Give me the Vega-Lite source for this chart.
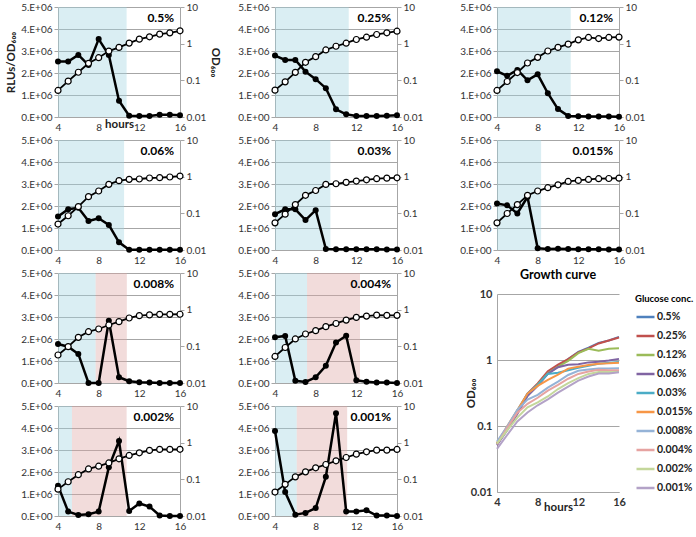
{
"$schema": "https://vega.github.io/schema/vega-lite/v6.json",
"padding": {"left": 5, "top": 2, "right": 0, "bottom": 0},
"background": "white",
"config": {
  "view": {"stroke": null},
  "font": "Lato",
  "axis": {"labelFont": "Lato", "labelFontSize": 10, "labelColor": "#333", "domainColor": "#a6a6a6", "tickColor": "#a6a6a6", "gridColor": "#a6a6a6", "tickSize": 4, "labelPadding": 2, "labelOverlap": false, "labelFlush": false, "titleFont": "Lato", "titleFontWeight": "bold", "titleFontSize": 11.5, "titleColor": "#222"},
  "legend": {"labelFont": "Lato", "titleFont": "Lato"}
},
"datasets": {
  "shades": [
    {"c": "0.5%", "kind": "blue", "h": 4, "h2": 10.75},
    {"c": "0.25%", "kind": "blue", "h": 4, "h2": 11.25},
    {"c": "0.12%", "kind": "blue", "h": 4, "h2": 11.25},
    {"c": "0.06%", "kind": "blue", "h": 4, "h2": 10.5},
    {"c": "0.03%", "kind": "blue", "h": 4, "h2": 9.45},
    {"c": "0.015%", "kind": "blue", "h": 4, "h2": 8.34},
    {"c": "0.008%", "kind": "blue", "h": 4, "h2": 7.7},
    {"c": "0.008%", "kind": "pink", "h": 7.7, "h2": 10.77},
    {"c": "0.004%", "kind": "blue", "h": 4, "h2": 7.15},
    {"c": "0.004%", "kind": "pink", "h": 7.15, "h2": 12.36},
    {"c": "0.002%", "kind": "blue", "h": 4, "h2": 5.37},
    {"c": "0.002%", "kind": "pink", "h": 5.37, "h2": 10.75},
    {"c": "0.001%", "kind": "blue", "h": 4, "h2": 6.14},
    {"c": "0.001%", "kind": "pink", "h": 6.14, "h2": 11.1}
  ],
  "labels": [
    {"c": "0.5%", "h": 16, "top": 5000000}, {"c": "0.25%", "h": 16, "top": 5000000}, {"c": "0.12%", "h": 16, "top": 5000000},
    {"c": "0.06%", "h": 16, "top": 5000000}, {"c": "0.03%", "h": 16, "top": 5000000}, {"c": "0.015%", "h": 16, "top": 5000000},
    {"c": "0.008%", "h": 16, "top": 5000000}, {"c": "0.004%", "h": 16, "top": 5000000}, {"c": "0.002%", "h": 16, "top": 5000000},
    {"c": "0.001%", "h": 16, "top": 5000000}
  ],
  "series": [
    {"c":"0.5%","h":4,"rlu":2520000,"od":0.053},{"c":"0.5%","h":5,"rlu":2520000,"od":0.095},{"c":"0.5%","h":6,"rlu":2820000,"od":0.166},{"c":"0.5%","h":7,"rlu":2360000,"od":0.291},{"c":"0.5%","h":8,"rlu":3540000,"od":0.414},{"c":"0.5%","h":9,"rlu":2820000,"od":0.628},{"c":"0.5%","h":10,"rlu":740000,"od":0.79},{"c":"0.5%","h":11,"rlu":60000,"od":1.035},{"c":"0.5%","h":12,"rlu":50000,"od":1.33},{"c":"0.5%","h":13,"rlu":50000,"od":1.54},{"c":"0.5%","h":14,"rlu":100000,"od":1.82},{"c":"0.5%","h":15,"rlu":100000,"od":1.97},{"c":"0.5%","h":16,"rlu":80000,"od":2.24},
    {"c":"0.25%","h":4,"rlu":2790000,"od":0.054},{"c":"0.25%","h":5,"rlu":2590000,"od":0.091},{"c":"0.25%","h":6,"rlu":2590000,"od":0.165},{"c":"0.25%","h":7,"rlu":2060000,"od":0.31},{"c":"0.25%","h":8,"rlu":1720000,"od":0.443},{"c":"0.25%","h":9,"rlu":1310000,"od":0.675},{"c":"0.25%","h":10,"rlu":350000,"od":0.85},{"c":"0.25%","h":11,"rlu":120000,"od":1.03},{"c":"0.25%","h":12,"rlu":50000,"od":1.3},{"c":"0.25%","h":13,"rlu":50000,"od":1.5},{"c":"0.25%","h":14,"rlu":50000,"od":1.78},{"c":"0.25%","h":15,"rlu":60000,"od":1.98},{"c":"0.25%","h":16,"rlu":80000,"od":2.19},
    {"c":"0.12%","h":4,"rlu":2080000,"od":0.053},{"c":"0.12%","h":5,"rlu":1870000,"od":0.093},{"c":"0.12%","h":6,"rlu":2140000,"od":0.163},{"c":"0.12%","h":7,"rlu":1670000,"od":0.297},{"c":"0.12%","h":8,"rlu":1940000,"od":0.423},{"c":"0.12%","h":9,"rlu":1080000,"od":0.63},{"c":"0.12%","h":10,"rlu":360000,"od":0.79},{"c":"0.12%","h":11,"rlu":50000,"od":0.97},{"c":"0.12%","h":12,"rlu":30000,"od":1.27},{"c":"0.12%","h":13,"rlu":20000,"od":1.48},{"c":"0.12%","h":14,"rlu":20000,"od":1.38},{"c":"0.12%","h":15,"rlu":20000,"od":1.48},{"c":"0.12%","h":16,"rlu":10000,"od":1.51},
    {"c":"0.06%","h":4,"rlu":1520000,"od":0.051},{"c":"0.06%","h":5,"rlu":1850000,"od":0.086},{"c":"0.06%","h":6,"rlu":1920000,"od":0.152},{"c":"0.06%","h":7,"rlu":1320000,"od":0.285},{"c":"0.06%","h":8,"rlu":1440000,"od":0.406},{"c":"0.06%","h":9,"rlu":1140000,"od":0.618},{"c":"0.06%","h":10,"rlu":350000,"od":0.778},{"c":"0.06%","h":11,"rlu":10000,"od":0.846},{"c":"0.06%","h":12,"rlu":10000,"od":0.863},{"c":"0.06%","h":13,"rlu":10000,"od":0.92},{"c":"0.06%","h":14,"rlu":10000,"od":0.94},{"c":"0.06%","h":15,"rlu":10000,"od":0.98},{"c":"0.06%","h":16,"rlu":10000,"od":1.04},
    {"c":"0.03%","h":4,"rlu":1630000,"od":0.055},{"c":"0.03%","h":5,"rlu":1850000,"od":0.095},{"c":"0.03%","h":6,"rlu":1850000,"od":0.173},{"c":"0.03%","h":7,"rlu":1360000,"od":0.31},{"c":"0.03%","h":8,"rlu":1810000,"od":0.42},{"c":"0.03%","h":9,"rlu":50000,"od":0.615},{"c":"0.03%","h":10,"rlu":30000,"od":0.64},{"c":"0.03%","h":11,"rlu":30000,"od":0.7},{"c":"0.03%","h":12,"rlu":30000,"od":0.76},{"c":"0.03%","h":13,"rlu":30000,"od":0.82},{"c":"0.03%","h":14,"rlu":30000,"od":0.88},{"c":"0.03%","h":15,"rlu":20000,"od":0.91},{"c":"0.03%","h":16,"rlu":20000,"od":0.93},
    {"c":"0.015%","h":4,"rlu":2110000,"od":0.055},{"c":"0.015%","h":5,"rlu":2030000,"od":0.099},{"c":"0.015%","h":6,"rlu":1660000,"od":0.173},{"c":"0.015%","h":7,"rlu":2410000,"od":0.31},{"c":"0.015%","h":8,"rlu":80000,"od":0.406},{"c":"0.015%","h":9,"rlu":50000,"od":0.5},{"c":"0.015%","h":10,"rlu":60000,"od":0.6},{"c":"0.015%","h":11,"rlu":40000,"od":0.74},{"c":"0.015%","h":12,"rlu":30000,"od":0.79},{"c":"0.015%","h":13,"rlu":30000,"od":0.84},{"c":"0.015%","h":14,"rlu":30000,"od":0.88},{"c":"0.015%","h":15,"rlu":20000,"od":0.89},{"c":"0.015%","h":16,"rlu":20000,"od":0.91},
    {"c":"0.008%","h":4,"rlu":1770000,"od":0.058},{"c":"0.008%","h":5,"rlu":1650000,"od":0.098},{"c":"0.008%","h":6,"rlu":1320000,"od":0.176},{"c":"0.008%","h":7,"rlu":0,"od":0.251},{"c":"0.008%","h":8,"rlu":0,"od":0.297},{"c":"0.008%","h":9,"rlu":2830000,"od":0.382},{"c":"0.008%","h":10,"rlu":260000,"od":0.471},{"c":"0.008%","h":11,"rlu":80000,"od":0.593},{"c":"0.008%","h":12,"rlu":30000,"od":0.686},{"c":"0.008%","h":13,"rlu":20000,"od":0.72},{"c":"0.008%","h":14,"rlu":0,"od":0.746},{"c":"0.008%","h":15,"rlu":0,"od":0.746},{"c":"0.008%","h":16,"rlu":0,"od":0.75},
    {"c":"0.004%","h":4,"rlu":2080000,"od":0.053},{"c":"0.004%","h":5,"rlu":2140000,"od":0.093},{"c":"0.004%","h":6,"rlu":100000,"od":0.159},{"c":"0.004%","h":7,"rlu":50000,"od":0.217},{"c":"0.004%","h":8,"rlu":260000,"od":0.268},{"c":"0.004%","h":9,"rlu":780000,"od":0.344},{"c":"0.004%","h":10,"rlu":1840000,"od":0.42},{"c":"0.004%","h":11,"rlu":2150000,"od":0.52},{"c":"0.004%","h":12,"rlu":120000,"od":0.615},{"c":"0.004%","h":13,"rlu":60000,"od":0.668},{"c":"0.004%","h":14,"rlu":20000,"od":0.71},{"c":"0.004%","h":15,"rlu":20000,"od":0.7},{"c":"0.004%","h":16,"rlu":0,"od":0.7},
    {"c":"0.002%","h":4,"rlu":1380000,"od":0.054},{"c":"0.002%","h":5,"rlu":200000,"od":0.086},{"c":"0.002%","h":6,"rlu":50000,"od":0.134},{"c":"0.002%","h":7,"rlu":80000,"od":0.192},{"c":"0.002%","h":8,"rlu":200000,"od":0.228},{"c":"0.002%","h":9,"rlu":2220000,"od":0.28},{"c":"0.002%","h":10,"rlu":3410000,"od":0.363},{"c":"0.002%","h":11,"rlu":230000,"od":0.448},{"c":"0.002%","h":12,"rlu":570000,"od":0.53},{"c":"0.002%","h":13,"rlu":430000,"od":0.615},{"c":"0.002%","h":14,"rlu":20000,"od":0.656},{"c":"0.002%","h":15,"rlu":0,"od":0.656},{"c":"0.002%","h":16,"rlu":0,"od":0.66},
    {"c":"0.001%","h":4,"rlu":3860000,"od":0.045},{"c":"0.001%","h":5,"rlu":1090000,"od":0.073},{"c":"0.001%","h":6,"rlu":60000,"od":0.117},{"c":"0.001%","h":7,"rlu":140000,"od":0.16},{"c":"0.001%","h":8,"rlu":360000,"od":0.206},{"c":"0.001%","h":9,"rlu":1780000,"od":0.254},{"c":"0.001%","h":10,"rlu":4670000,"od":0.32},{"c":"0.001%","h":11,"rlu":210000,"od":0.394},{"c":"0.001%","h":12,"rlu":210000,"od":0.486},{"c":"0.001%","h":13,"rlu":260000,"od":0.563},{"c":"0.001%","h":14,"rlu":20000,"od":0.625},{"c":"0.001%","h":15,"rlu":20000,"od":0.625},{"c":"0.001%","h":16,"rlu":0,"od":0.653}
  ]
},
"spacing": 36,
"resolve": {"scale": {"color": "independent"}, "legend": {"color": "independent"}},
"hconcat": [
 {"spacing": 16, "hconcat": [
  {"spacing": 3, "vconcat": [
   {"width": 122, "height": 110, "resolve": {"scale": {"y": "independent"}},
    "encoding": {"x": {"field": "h", "type": "quantitative", "scale": {"domain": [4, 16], "nice": false}, "axis": {"values": [4, 8, 12, 16], "grid": false, "ticks": false, "labelPadding": 5, "title": "hours", "titlePadding": -14}}},
    "layer": [
     {"layer": [
       {"data": {"name": "shades"}, "transform": [{"filter": "datum.c == '0.5%'"}], "mark": {"type": "rect", "fillOpacity": 0.4},
        "encoding": {"x2": {"field": "h2"}, "fill": {"condition": {"test": "datum.kind == 'pink'", "value": "#dea7a5"}, "value": "#a2d4e1"}}},
       {"data": {"name": "series"}, "transform": [{"filter": "datum.c == '0.5%'"}], "mark": {"type": "line", "color": "#000", "strokeWidth": 2.5, "point": {"filled": true, "color": "#000", "size": 36}},
        "encoding": {"y": {"field": "rlu", "type": "quantitative", "scale": {"domain": [0, 5000000]}, "axis": {"values": [0, 1000000, 2000000, 3000000, 4000000, 5000000], "labelExpr": "datum.value == 0 ? '0.E+00' : format(datum.value/1000000, 'd') + '.E+06'", "grid": true, "title": "RLUs/OD₆₀₀"}}}},
       {"data": {"name": "labels"}, "transform": [{"filter": "datum.c == '0.5%'"}], "mark": {"type": "text", "align": "right", "baseline": "top", "dx": -6, "dy": 6, "fontSize": 12, "fontWeight": "bold", "font": "Lato"},
        "encoding": {"y": {"field": "top", "type": "quantitative", "axis": {"values": [0, 1000000, 2000000, 3000000, 4000000, 5000000], "labelExpr": "datum.value == 0 ? '0.E+00' : format(datum.value/1000000, 'd') + '.E+06'", "grid": true, "title": "RLUs/OD₆₀₀"}}, "text": {"field": "c"}}}
     ]},
     {"data": {"name": "series"}, "transform": [{"filter": "datum.c == '0.5%'"}], "mark": {"type": "line", "color": "#000", "strokeWidth": 1.8, "point": {"filled": true, "fill": "#fff", "stroke": "#000", "strokeWidth": 1.2, "size": 36}},
      "encoding": {"y": {"field": "od", "type": "quantitative", "scale": {"type": "log", "domain": [0.01, 10]}, "axis": {"orient": "right", "values": [0.01, 0.1, 1, 10], "format": "~g", "grid": false, "title": "OD₆₀₀"}}}}
   ]},
   {"width": 122, "height": 110, "resolve": {"scale": {"y": "independent"}},
    "encoding": {"x": {"field": "h", "type": "quantitative", "scale": {"domain": [4, 16], "nice": false}, "axis": {"values": [4, 8, 12, 16], "grid": false, "ticks": false, "labelPadding": 5, "title": null}}},
    "layer": [
     {"layer": [
       {"data": {"name": "shades"}, "transform": [{"filter": "datum.c == '0.06%'"}], "mark": {"type": "rect", "fillOpacity": 0.4},
        "encoding": {"x2": {"field": "h2"}, "fill": {"condition": {"test": "datum.kind == 'pink'", "value": "#dea7a5"}, "value": "#a2d4e1"}}},
       {"data": {"name": "series"}, "transform": [{"filter": "datum.c == '0.06%'"}], "mark": {"type": "line", "color": "#000", "strokeWidth": 2.5, "point": {"filled": true, "color": "#000", "size": 36}},
        "encoding": {"y": {"field": "rlu", "type": "quantitative", "scale": {"domain": [0, 5000000]}, "axis": {"values": [0, 1000000, 2000000, 3000000, 4000000, 5000000], "labelExpr": "datum.value == 0 ? '0.E+00' : format(datum.value/1000000, 'd') + '.E+06'", "grid": true, "title": null}}}},
       {"data": {"name": "labels"}, "transform": [{"filter": "datum.c == '0.06%'"}], "mark": {"type": "text", "align": "right", "baseline": "top", "dx": -6, "dy": 6, "fontSize": 12, "fontWeight": "bold", "font": "Lato"},
        "encoding": {"y": {"field": "top", "type": "quantitative", "axis": {"values": [0, 1000000, 2000000, 3000000, 4000000, 5000000], "labelExpr": "datum.value == 0 ? '0.E+00' : format(datum.value/1000000, 'd') + '.E+06'", "grid": true, "title": null}}, "text": {"field": "c"}}}
     ]},
     {"data": {"name": "series"}, "transform": [{"filter": "datum.c == '0.06%'"}], "mark": {"type": "line", "color": "#000", "strokeWidth": 1.8, "point": {"filled": true, "fill": "#fff", "stroke": "#000", "strokeWidth": 1.2, "size": 36}},
      "encoding": {"y": {"field": "od", "type": "quantitative", "scale": {"type": "log", "domain": [0.01, 10]}, "axis": {"orient": "right", "values": [0.01, 0.1, 1, 10], "format": "~g", "grid": false, "title": null}}}}
   ]},
   {"width": 122, "height": 110, "resolve": {"scale": {"y": "independent"}},
    "encoding": {"x": {"field": "h", "type": "quantitative", "scale": {"domain": [4, 16], "nice": false}, "axis": {"values": [4, 8, 12, 16], "grid": false, "ticks": false, "labelPadding": 5, "title": null}}},
    "layer": [
     {"layer": [
       {"data": {"name": "shades"}, "transform": [{"filter": "datum.c == '0.008%'"}], "mark": {"type": "rect", "fillOpacity": 0.4},
        "encoding": {"x2": {"field": "h2"}, "fill": {"condition": {"test": "datum.kind == 'pink'", "value": "#dea7a5"}, "value": "#a2d4e1"}}},
       {"data": {"name": "series"}, "transform": [{"filter": "datum.c == '0.008%'"}], "mark": {"type": "line", "color": "#000", "strokeWidth": 2.5, "point": {"filled": true, "color": "#000", "size": 36}},
        "encoding": {"y": {"field": "rlu", "type": "quantitative", "scale": {"domain": [0, 5000000]}, "axis": {"values": [0, 1000000, 2000000, 3000000, 4000000, 5000000], "labelExpr": "datum.value == 0 ? '0.E+00' : format(datum.value/1000000, 'd') + '.E+06'", "grid": true, "title": null}}}},
       {"data": {"name": "labels"}, "transform": [{"filter": "datum.c == '0.008%'"}], "mark": {"type": "text", "align": "right", "baseline": "top", "dx": -6, "dy": 6, "fontSize": 12, "fontWeight": "bold", "font": "Lato"},
        "encoding": {"y": {"field": "top", "type": "quantitative", "axis": {"values": [0, 1000000, 2000000, 3000000, 4000000, 5000000], "labelExpr": "datum.value == 0 ? '0.E+00' : format(datum.value/1000000, 'd') + '.E+06'", "grid": true, "title": null}}, "text": {"field": "c"}}}
     ]},
     {"data": {"name": "series"}, "transform": [{"filter": "datum.c == '0.008%'"}], "mark": {"type": "line", "color": "#000", "strokeWidth": 1.8, "point": {"filled": true, "fill": "#fff", "stroke": "#000", "strokeWidth": 1.2, "size": 36}},
      "encoding": {"y": {"field": "od", "type": "quantitative", "scale": {"type": "log", "domain": [0.01, 10]}, "axis": {"orient": "right", "values": [0.01, 0.1, 1, 10], "format": "~g", "grid": false, "title": null}}}}
   ]},
   {"width": 122, "height": 110, "resolve": {"scale": {"y": "independent"}},
    "encoding": {"x": {"field": "h", "type": "quantitative", "scale": {"domain": [4, 16], "nice": false}, "axis": {"values": [4, 8, 12, 16], "grid": false, "ticks": false, "labelPadding": 5, "title": null}}},
    "layer": [
     {"layer": [
       {"data": {"name": "shades"}, "transform": [{"filter": "datum.c == '0.002%'"}], "mark": {"type": "rect", "fillOpacity": 0.4},
        "encoding": {"x2": {"field": "h2"}, "fill": {"condition": {"test": "datum.kind == 'pink'", "value": "#dea7a5"}, "value": "#a2d4e1"}}},
       {"data": {"name": "series"}, "transform": [{"filter": "datum.c == '0.002%'"}], "mark": {"type": "line", "color": "#000", "strokeWidth": 2.5, "point": {"filled": true, "color": "#000", "size": 36}},
        "encoding": {"y": {"field": "rlu", "type": "quantitative", "scale": {"domain": [0, 5000000]}, "axis": {"values": [0, 1000000, 2000000, 3000000, 4000000, 5000000], "labelExpr": "datum.value == 0 ? '0.E+00' : format(datum.value/1000000, 'd') + '.E+06'", "grid": true, "title": null}}}},
       {"data": {"name": "labels"}, "transform": [{"filter": "datum.c == '0.002%'"}], "mark": {"type": "text", "align": "right", "baseline": "top", "dx": -6, "dy": 6, "fontSize": 12, "fontWeight": "bold", "font": "Lato"},
        "encoding": {"y": {"field": "top", "type": "quantitative", "axis": {"values": [0, 1000000, 2000000, 3000000, 4000000, 5000000], "labelExpr": "datum.value == 0 ? '0.E+00' : format(datum.value/1000000, 'd') + '.E+06'", "grid": true, "title": null}}, "text": {"field": "c"}}}
     ]},
     {"data": {"name": "series"}, "transform": [{"filter": "datum.c == '0.002%'"}], "mark": {"type": "line", "color": "#000", "strokeWidth": 1.8, "point": {"filled": true, "fill": "#fff", "stroke": "#000", "strokeWidth": 1.2, "size": 36}},
      "encoding": {"y": {"field": "od", "type": "quantitative", "scale": {"type": "log", "domain": [0.01, 10]}, "axis": {"orient": "right", "values": [0.01, 0.1, 1, 10], "format": "~g", "grid": false, "title": null}}}}
   ]}
  ]},
  {"spacing": 3, "vconcat": [
   {"width": 122, "height": 110, "resolve": {"scale": {"y": "independent"}},
    "encoding": {"x": {"field": "h", "type": "quantitative", "scale": {"domain": [4, 16], "nice": false}, "axis": {"values": [4, 8, 12, 16], "grid": false, "ticks": false, "labelPadding": 5, "title": null}}},
    "layer": [
     {"layer": [
       {"data": {"name": "shades"}, "transform": [{"filter": "datum.c == '0.25%'"}], "mark": {"type": "rect", "fillOpacity": 0.4},
        "encoding": {"x2": {"field": "h2"}, "fill": {"condition": {"test": "datum.kind == 'pink'", "value": "#dea7a5"}, "value": "#a2d4e1"}}},
       {"data": {"name": "series"}, "transform": [{"filter": "datum.c == '0.25%'"}], "mark": {"type": "line", "color": "#000", "strokeWidth": 2.5, "point": {"filled": true, "color": "#000", "size": 36}},
        "encoding": {"y": {"field": "rlu", "type": "quantitative", "scale": {"domain": [0, 5000000]}, "axis": {"values": [0, 1000000, 2000000, 3000000, 4000000, 5000000], "labelExpr": "datum.value == 0 ? '0.E+00' : format(datum.value/1000000, 'd') + '.E+06'", "grid": true, "title": null}}}},
       {"data": {"name": "labels"}, "transform": [{"filter": "datum.c == '0.25%'"}], "mark": {"type": "text", "align": "right", "baseline": "top", "dx": -6, "dy": 6, "fontSize": 12, "fontWeight": "bold", "font": "Lato"},
        "encoding": {"y": {"field": "top", "type": "quantitative", "axis": {"values": [0, 1000000, 2000000, 3000000, 4000000, 5000000], "labelExpr": "datum.value == 0 ? '0.E+00' : format(datum.value/1000000, 'd') + '.E+06'", "grid": true, "title": null}}, "text": {"field": "c"}}}
     ]},
     {"data": {"name": "series"}, "transform": [{"filter": "datum.c == '0.25%'"}], "mark": {"type": "line", "color": "#000", "strokeWidth": 1.8, "point": {"filled": true, "fill": "#fff", "stroke": "#000", "strokeWidth": 1.2, "size": 36}},
      "encoding": {"y": {"field": "od", "type": "quantitative", "scale": {"type": "log", "domain": [0.01, 10]}, "axis": {"orient": "right", "values": [0.01, 0.1, 1, 10], "format": "~g", "grid": false, "title": null}}}}
   ]},
   {"width": 122, "height": 110, "resolve": {"scale": {"y": "independent"}},
    "encoding": {"x": {"field": "h", "type": "quantitative", "scale": {"domain": [4, 16], "nice": false}, "axis": {"values": [4, 8, 12, 16], "grid": false, "ticks": false, "labelPadding": 5, "title": null}}},
    "layer": [
     {"layer": [
       {"data": {"name": "shades"}, "transform": [{"filter": "datum.c == '0.03%'"}], "mark": {"type": "rect", "fillOpacity": 0.4},
        "encoding": {"x2": {"field": "h2"}, "fill": {"condition": {"test": "datum.kind == 'pink'", "value": "#dea7a5"}, "value": "#a2d4e1"}}},
       {"data": {"name": "series"}, "transform": [{"filter": "datum.c == '0.03%'"}], "mark": {"type": "line", "color": "#000", "strokeWidth": 2.5, "point": {"filled": true, "color": "#000", "size": 36}},
        "encoding": {"y": {"field": "rlu", "type": "quantitative", "scale": {"domain": [0, 5000000]}, "axis": {"values": [0, 1000000, 2000000, 3000000, 4000000, 5000000], "labelExpr": "datum.value == 0 ? '0.E+00' : format(datum.value/1000000, 'd') + '.E+06'", "grid": true, "title": null}}}},
       {"data": {"name": "labels"}, "transform": [{"filter": "datum.c == '0.03%'"}], "mark": {"type": "text", "align": "right", "baseline": "top", "dx": -6, "dy": 6, "fontSize": 12, "fontWeight": "bold", "font": "Lato"},
        "encoding": {"y": {"field": "top", "type": "quantitative", "axis": {"values": [0, 1000000, 2000000, 3000000, 4000000, 5000000], "labelExpr": "datum.value == 0 ? '0.E+00' : format(datum.value/1000000, 'd') + '.E+06'", "grid": true, "title": null}}, "text": {"field": "c"}}}
     ]},
     {"data": {"name": "series"}, "transform": [{"filter": "datum.c == '0.03%'"}], "mark": {"type": "line", "color": "#000", "strokeWidth": 1.8, "point": {"filled": true, "fill": "#fff", "stroke": "#000", "strokeWidth": 1.2, "size": 36}},
      "encoding": {"y": {"field": "od", "type": "quantitative", "scale": {"type": "log", "domain": [0.01, 10]}, "axis": {"orient": "right", "values": [0.01, 0.1, 1, 10], "format": "~g", "grid": false, "title": null}}}}
   ]},
   {"width": 122, "height": 110, "resolve": {"scale": {"y": "independent"}},
    "encoding": {"x": {"field": "h", "type": "quantitative", "scale": {"domain": [4, 16], "nice": false}, "axis": {"values": [4, 8, 12, 16], "grid": false, "ticks": false, "labelPadding": 5, "title": null}}},
    "layer": [
     {"layer": [
       {"data": {"name": "shades"}, "transform": [{"filter": "datum.c == '0.004%'"}], "mark": {"type": "rect", "fillOpacity": 0.4},
        "encoding": {"x2": {"field": "h2"}, "fill": {"condition": {"test": "datum.kind == 'pink'", "value": "#dea7a5"}, "value": "#a2d4e1"}}},
       {"data": {"name": "series"}, "transform": [{"filter": "datum.c == '0.004%'"}], "mark": {"type": "line", "color": "#000", "strokeWidth": 2.5, "point": {"filled": true, "color": "#000", "size": 36}},
        "encoding": {"y": {"field": "rlu", "type": "quantitative", "scale": {"domain": [0, 5000000]}, "axis": {"values": [0, 1000000, 2000000, 3000000, 4000000, 5000000], "labelExpr": "datum.value == 0 ? '0.E+00' : format(datum.value/1000000, 'd') + '.E+06'", "grid": true, "title": null}}}},
       {"data": {"name": "labels"}, "transform": [{"filter": "datum.c == '0.004%'"}], "mark": {"type": "text", "align": "right", "baseline": "top", "dx": -6, "dy": 6, "fontSize": 12, "fontWeight": "bold", "font": "Lato"},
        "encoding": {"y": {"field": "top", "type": "quantitative", "axis": {"values": [0, 1000000, 2000000, 3000000, 4000000, 5000000], "labelExpr": "datum.value == 0 ? '0.E+00' : format(datum.value/1000000, 'd') + '.E+06'", "grid": true, "title": null}}, "text": {"field": "c"}}}
     ]},
     {"data": {"name": "series"}, "transform": [{"filter": "datum.c == '0.004%'"}], "mark": {"type": "line", "color": "#000", "strokeWidth": 1.8, "point": {"filled": true, "fill": "#fff", "stroke": "#000", "strokeWidth": 1.2, "size": 36}},
      "encoding": {"y": {"field": "od", "type": "quantitative", "scale": {"type": "log", "domain": [0.01, 10]}, "axis": {"orient": "right", "values": [0.01, 0.1, 1, 10], "format": "~g", "grid": false, "title": null}}}}
   ]},
   {"width": 122, "height": 110, "resolve": {"scale": {"y": "independent"}},
    "encoding": {"x": {"field": "h", "type": "quantitative", "scale": {"domain": [4, 16], "nice": false}, "axis": {"values": [4, 8, 12, 16], "grid": false, "ticks": false, "labelPadding": 5, "title": null}}},
    "layer": [
     {"layer": [
       {"data": {"name": "shades"}, "transform": [{"filter": "datum.c == '0.001%'"}], "mark": {"type": "rect", "fillOpacity": 0.4},
        "encoding": {"x2": {"field": "h2"}, "fill": {"condition": {"test": "datum.kind == 'pink'", "value": "#dea7a5"}, "value": "#a2d4e1"}}},
       {"data": {"name": "series"}, "transform": [{"filter": "datum.c == '0.001%'"}], "mark": {"type": "line", "color": "#000", "strokeWidth": 2.5, "point": {"filled": true, "color": "#000", "size": 36}},
        "encoding": {"y": {"field": "rlu", "type": "quantitative", "scale": {"domain": [0, 5000000]}, "axis": {"values": [0, 1000000, 2000000, 3000000, 4000000, 5000000], "labelExpr": "datum.value == 0 ? '0.E+00' : format(datum.value/1000000, 'd') + '.E+06'", "grid": true, "title": null}}}},
       {"data": {"name": "labels"}, "transform": [{"filter": "datum.c == '0.001%'"}], "mark": {"type": "text", "align": "right", "baseline": "top", "dx": -6, "dy": 6, "fontSize": 12, "fontWeight": "bold", "font": "Lato"},
        "encoding": {"y": {"field": "top", "type": "quantitative", "axis": {"values": [0, 1000000, 2000000, 3000000, 4000000, 5000000], "labelExpr": "datum.value == 0 ? '0.E+00' : format(datum.value/1000000, 'd') + '.E+06'", "grid": true, "title": null}}, "text": {"field": "c"}}}
     ]},
     {"data": {"name": "series"}, "transform": [{"filter": "datum.c == '0.001%'"}], "mark": {"type": "line", "color": "#000", "strokeWidth": 1.8, "point": {"filled": true, "fill": "#fff", "stroke": "#000", "strokeWidth": 1.2, "size": 36}},
      "encoding": {"y": {"field": "od", "type": "quantitative", "scale": {"type": "log", "domain": [0.01, 10]}, "axis": {"orient": "right", "values": [0.01, 0.1, 1, 10], "format": "~g", "grid": false, "title": null}}}}
   ]}
  ]}
 ]},
 {"spacing": 3, "resolve": {"scale": {"color": "independent"}, "legend": {"color": "independent"}}, "vconcat": [
   {"width": 122, "height": 110, "resolve": {"scale": {"y": "independent"}},
    "encoding": {"x": {"field": "h", "type": "quantitative", "scale": {"domain": [4, 16], "nice": false}, "axis": {"values": [4, 8, 12, 16], "grid": false, "ticks": false, "labelPadding": 5, "title": null}}},
    "layer": [
     {"layer": [
       {"data": {"name": "shades"}, "transform": [{"filter": "datum.c == '0.12%'"}], "mark": {"type": "rect", "fillOpacity": 0.4},
        "encoding": {"x2": {"field": "h2"}, "fill": {"condition": {"test": "datum.kind == 'pink'", "value": "#dea7a5"}, "value": "#a2d4e1"}}},
       {"data": {"name": "series"}, "transform": [{"filter": "datum.c == '0.12%'"}], "mark": {"type": "line", "color": "#000", "strokeWidth": 2.5, "point": {"filled": true, "color": "#000", "size": 36}},
        "encoding": {"y": {"field": "rlu", "type": "quantitative", "scale": {"domain": [0, 5000000]}, "axis": {"values": [0, 1000000, 2000000, 3000000, 4000000, 5000000], "labelExpr": "datum.value == 0 ? '0.E+00' : format(datum.value/1000000, 'd') + '.E+06'", "grid": true, "title": null}}}},
       {"data": {"name": "labels"}, "transform": [{"filter": "datum.c == '0.12%'"}], "mark": {"type": "text", "align": "right", "baseline": "top", "dx": -6, "dy": 6, "fontSize": 12, "fontWeight": "bold", "font": "Lato"},
        "encoding": {"y": {"field": "top", "type": "quantitative", "axis": {"values": [0, 1000000, 2000000, 3000000, 4000000, 5000000], "labelExpr": "datum.value == 0 ? '0.E+00' : format(datum.value/1000000, 'd') + '.E+06'", "grid": true, "title": null}}, "text": {"field": "c"}}}
     ]},
     {"data": {"name": "series"}, "transform": [{"filter": "datum.c == '0.12%'"}], "mark": {"type": "line", "color": "#000", "strokeWidth": 1.8, "point": {"filled": true, "fill": "#fff", "stroke": "#000", "strokeWidth": 1.2, "size": 36}},
      "encoding": {"y": {"field": "od", "type": "quantitative", "scale": {"type": "log", "domain": [0.01, 10]}, "axis": {"orient": "right", "values": [0.01, 0.1, 1, 10], "format": "~g", "grid": false, "title": null}}}}
   ]},
   {"width": 122, "height": 110, "resolve": {"scale": {"y": "independent"}},
    "encoding": {"x": {"field": "h", "type": "quantitative", "scale": {"domain": [4, 16], "nice": false}, "axis": {"values": [4, 8, 12, 16], "grid": false, "ticks": false, "labelPadding": 5, "title": null}}},
    "layer": [
     {"layer": [
       {"data": {"name": "shades"}, "transform": [{"filter": "datum.c == '0.015%'"}], "mark": {"type": "rect", "fillOpacity": 0.4},
        "encoding": {"x2": {"field": "h2"}, "fill": {"condition": {"test": "datum.kind == 'pink'", "value": "#dea7a5"}, "value": "#a2d4e1"}}},
       {"data": {"name": "series"}, "transform": [{"filter": "datum.c == '0.015%'"}], "mark": {"type": "line", "color": "#000", "strokeWidth": 2.5, "point": {"filled": true, "color": "#000", "size": 36}},
        "encoding": {"y": {"field": "rlu", "type": "quantitative", "scale": {"domain": [0, 5000000]}, "axis": {"values": [0, 1000000, 2000000, 3000000, 4000000, 5000000], "labelExpr": "datum.value == 0 ? '0.E+00' : format(datum.value/1000000, 'd') + '.E+06'", "grid": true, "title": null}}}},
       {"data": {"name": "labels"}, "transform": [{"filter": "datum.c == '0.015%'"}], "mark": {"type": "text", "align": "right", "baseline": "top", "dx": -6, "dy": 6, "fontSize": 12, "fontWeight": "bold", "font": "Lato"},
        "encoding": {"y": {"field": "top", "type": "quantitative", "axis": {"values": [0, 1000000, 2000000, 3000000, 4000000, 5000000], "labelExpr": "datum.value == 0 ? '0.E+00' : format(datum.value/1000000, 'd') + '.E+06'", "grid": true, "title": null}}, "text": {"field": "c"}}}
     ]},
     {"data": {"name": "series"}, "transform": [{"filter": "datum.c == '0.015%'"}], "mark": {"type": "line", "color": "#000", "strokeWidth": 1.8, "point": {"filled": true, "fill": "#fff", "stroke": "#000", "strokeWidth": 1.2, "size": 36}},
      "encoding": {"y": {"field": "od", "type": "quantitative", "scale": {"type": "log", "domain": [0.01, 10]}, "axis": {"orient": "right", "values": [0.01, 0.1, 1, 10], "format": "~g", "grid": false, "title": null}}}}
   ]},
   {"width": 122, "height": 198,
    "title": {"text": "Growth curve", "font": "Lato", "fontSize": 12.5, "fontWeight": "bold", "offset": 7},
    "data": {"name": "series"},
    "mark": {"type": "line", "strokeWidth": 2},
    "encoding": {
      "x": {"field": "h", "type": "quantitative", "scale": {"domain": [4, 16], "nice": false}, "axis": {"values": [4, 8, 12, 16], "grid": false, "ticks": false, "labelPadding": 4, "labelFontWeight": "bold", "labelFontSize": 11, "title": "hours", "titlePadding": -6}},
      "y": {"field": "od", "type": "quantitative", "scale": {"type": "log", "domain": [0.01, 10]}, "axis": {"values": [0.01, 0.1, 1, 10], "format": "~g", "grid": true, "ticks": false, "labelPadding": 5, "labelFontWeight": "bold", "labelFontSize": 11, "title": "OD₆₀₀", "titlePadding": -6}},
      "color": {"field": "c", "type": "nominal",
        "scale": {"domain": ["0.5%", "0.25%", "0.12%", "0.06%", "0.03%", "0.015%", "0.008%", "0.004%", "0.002%", "0.001%"], "range": ["#4f81bd", "#c0504d", "#9bbb59", "#8064a2", "#4bacc6", "#f79646", "#95b3d7", "#e6a3a1", "#c4d79b", "#b3a2c7"]},
        "legend": {"title": "Glucose conc.", "titleFontSize": 9.5, "titleFontWeight": "bold", "titlePadding": 3, "symbolType": "stroke", "symbolStrokeWidth": 2.5, "symbolSize": 324, "labelFontWeight": "bold", "labelFontSize": 10.5, "labelColor": "#222", "rowPadding": 3, "offset": 12, "labelOffset": 1}}
    }}
 ]}
]
}
